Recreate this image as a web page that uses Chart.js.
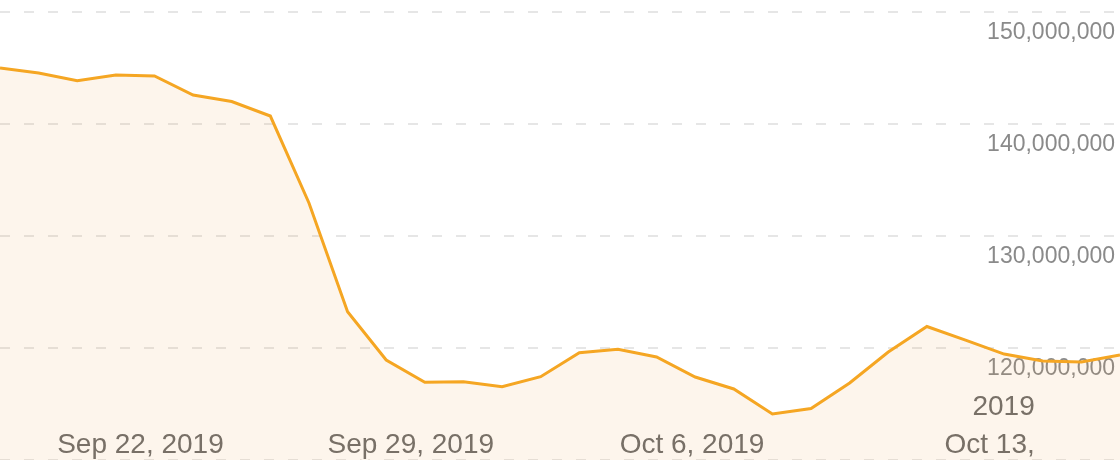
<!DOCTYPE html>
<html>
<head>
<meta charset="utf-8">
<script src="https://cdn.jsdelivr.net/npm/chart.js@4.4.1/dist/chart.umd.min.js"></script>
<style>
  html, body { margin: 0; padding: 0; background: #fff; }
  canvas { display: block; }
</style>
</head>
<body>
<canvas id="lineChart" width="1120" height="460"></canvas>
<script>
// one value per day, Sep 16 - Oct 15, 2019
var dates = [
    'Sep 16, 2019', 'Sep 17, 2019', 'Sep 18, 2019', 'Sep 19, 2019', 'Sep 20, 2019',
    'Sep 21, 2019', 'Sep 22, 2019', 'Sep 23, 2019', 'Sep 24, 2019', 'Sep 25, 2019',
    'Sep 26, 2019', 'Sep 27, 2019', 'Sep 28, 2019', 'Sep 29, 2019', 'Sep 30, 2019',
    'Oct 1, 2019', 'Oct 2, 2019', 'Oct 3, 2019', 'Oct 4, 2019', 'Oct 5, 2019',
    'Oct 6, 2019', 'Oct 7, 2019', 'Oct 8, 2019', 'Oct 9, 2019', 'Oct 10, 2019',
    'Oct 11, 2019', 'Oct 12, 2019', 'Oct 13, 2019', 'Oct 14, 2019', 'Oct 15, 2019'
];
var values = [
    145000000, 144550000, 143870000, 144380000, 144290000,
    142590000, 142010000, 140710000, 132950000, 123240000,
    118930000, 116940000, 116990000, 116540000, 117440000,
    119580000, 119880000, 119200000, 117410000, 116340000,
    114110000, 114600000, 116880000, 119640000, 121920000,
    120710000, 119460000, 118840000, 118750000, 119380000
];

// labelled days on the x axis and how each label is broken into lines
var tickDates = ['Sep 22, 2019', 'Sep 29, 2019', 'Oct 6, 2019', 'Oct 13, 2019'];
var tickLines = [['Sep 22, 2019'], ['Sep 29, 2019'], ['Oct 6, 2019'], ['2019', 'Oct 13,']];

var yMin = 110000000;
var yMax = 150000000;
var yStep = 10000000;

var labelFont = "'Liberation Sans', Arial, sans-serif";

// keep the label-only axes from taking room away from the plot
function noSpace(scale) {
    scale.paddingTop = 0;
    scale.paddingBottom = 0;
    scale.paddingLeft = 0;
    scale.paddingRight = 0;
    if (!scale.isHorizontal()) scale.width = 0;
}

var ctx = document.getElementById('lineChart').getContext('2d');
var chart = new Chart(ctx, {
    type: 'line',
    data: {
        labels: dates,
        datasets: [{
            data: values,
            yAxisID: 'y',
            borderColor: '#f5a623',
            borderWidth: 3,
            backgroundColor: 'rgba(235, 155, 65, 0.1)',
            fill: 'start',
            tension: 0,
            pointRadius: 0
        }]
    },
    options: {
        responsive: false,
        animation: false,
        layout: { padding: { top: 12 } },
        plugins: {
            legend: { display: false },
            tooltip: { enabled: false }
        },
        scales: {
            x: {
                type: 'category',
                offset: false,
                position: { y: yMin },
                z: 1,
                grid: { display: false },
                border: { display: false },
                afterFit: noSpace,
                ticks: {
                    autoSkip: false,
                    maxRotation: 0,
                    minRotation: 0,
                    align: 'end',
                    crossAlign: 'far',
                    labelOffset: -8,
                    padding: -61,
                    color: '#6b6b6b',
                    textStrokeColor: '#ffffff',
                    textStrokeWidth: 4,
                    font: { family: labelFont, size: 28, lineHeight: '38px' },
                    callback: function (value, index) {
                        var k = tickDates.indexOf(dates[index]);
                        return k < 0 ? '' : tickLines[k];
                    }
                }
            },
            y: {
                position: 'right',
                min: yMin,
                max: yMax,
                grid: { color: '#e6e6e6', lineWidth: 2, drawTicks: false },
                border: { display: false, dash: [10, 14] },
                afterFit: noSpace,
                ticks: { display: false, stepSize: yStep }
            },
            yLabels: {
                position: 'right',
                min: yMin,
                max: yMax,
                z: 1,
                grid: { display: false, drawTicks: false },
                border: { display: false },
                afterFit: noSpace,
                ticks: {
                    stepSize: yStep,
                    mirror: true,
                    padding: -5,
                    color: '#8a8a8a',
                    textStrokeColor: '#ffffff',
                    textStrokeWidth: 4,
                    font: { family: labelFont, size: 23, lineHeight: '42px' },
                    callback: function (value) {
                        if (value === yMin) return '';
                        return ['', value.toLocaleString('en-US')];
                    }
                }
            }
        }
    }
});
</script>
</body>
</html>
